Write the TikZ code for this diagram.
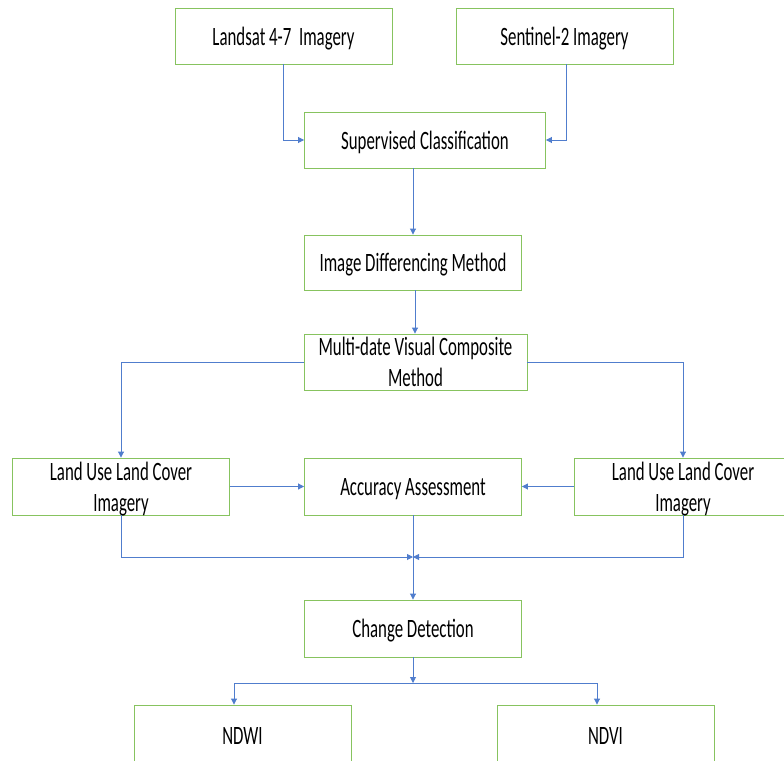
\documentclass[tikz,border=0pt]{standalone}
\usepackage{fontspec}
\setmainfont[FakeStretch=0.635]{Carlito}
\usetikzlibrary{calc, arrows.meta, positioning}
\usepackage{xcolor}
\definecolor{boxgreen}{RGB}{135,195,95}
\definecolor{lineblue}{RGB}{80,125,205}

\begin{document}
\begin{tikzpicture}[
    x=1pt, y=-1pt,
    every node/.style={font=\fontsize{26.5}{31}\selectfont, text=black},
    box/.style={rectangle, draw=boxgreen, line width=0.9pt, minimum width=217pt, minimum height=56pt, align=center, inner sep=0pt, text depth=0pt},
    arrow/.style={-{Triangle[length=6pt,width=6pt]}, draw=lineblue, line width=0.9pt},
    link/.style={draw=lineblue, line width=0.9pt}
]
    \useasboundingbox (0,0) rectangle (784,760);

    % Input imagery
    \node[box] (landsat) at (283.5,36) {Landsat 4-7\ \ Imagery};
    \node[box] (sentinel) at (564.5,36) {Sentinel-2 Imagery};

    % Main column
    \node[box, minimum width=241pt] (supervised) at (425,140) {Supervised Classification};
    \node[box, minimum height=55pt] (imgdiff) at (413,262.5) {Image Differencing Method};
    \node[box, minimum width=223pt] (multidate) at (415.5,362) {Multi-date Visual Composite\\Method};
    \node[box, minimum height=57pt] (accuracy) at (413,486.5) {Accuracy Assessment};
    \node[box, minimum height=57pt] (change) at (413,628.5) {Change Detection};

    % Side boxes
    \node[box, minimum height=57pt] (lulcl) at (121,486.5) {Land Use Land Cover\\Imagery};
    \node[box, minimum height=57pt] (lulcr) at (683,486.5) {Land Use Land Cover\\Imagery};

    % Indices
    \node[box, minimum height=62pt] (ndwi) at (242.5,736) {NDWI};
    \node[box, minimum height=62pt] (ndvi) at (605.5,736) {NDVI};

    % Junctions
    \coordinate (join) at (413,557);
    \coordinate (split) at (413,683);

    % Arrows - classification
    \draw[arrow] (landsat.south) |- (supervised.west);
    \draw[arrow] ([xshift=2pt]sentinel.south) |- (supervised.east);
    \draw[arrow] (imgdiff.north |- supervised.south) -- (imgdiff.north);
    \draw[arrow] ([xshift=2pt]imgdiff.south) -- ([xshift=2pt]imgdiff.south |- multidate.north);

    % Arrows - land cover
    \draw[arrow] (multidate.west) -| (lulcl.north);
    \draw[arrow] (multidate.east) -| (lulcr.north);
    \draw[arrow] (lulcl.east) -- (accuracy.west);
    \draw[arrow] (lulcr.west) -- (accuracy.east);

    % Arrows - change detection
    \draw[arrow] (lulcl.south) |- (join);
    \draw[arrow] (lulcr.south) |- (join);
    \draw[arrow] (accuracy.south) -- (change.north);
    \draw[arrow] (change.south) -- (split);
    \draw[link] ([xshift=-8.5pt]ndwi.north |- split) -- ([xshift=-8.5pt]ndvi.north |- split);
    \draw[arrow] (split) -| ([xshift=-8.5pt]ndwi.north);
    \draw[arrow] (split) -| ([xshift=-8.5pt]ndvi.north);

\end{tikzpicture}
\end{document}
